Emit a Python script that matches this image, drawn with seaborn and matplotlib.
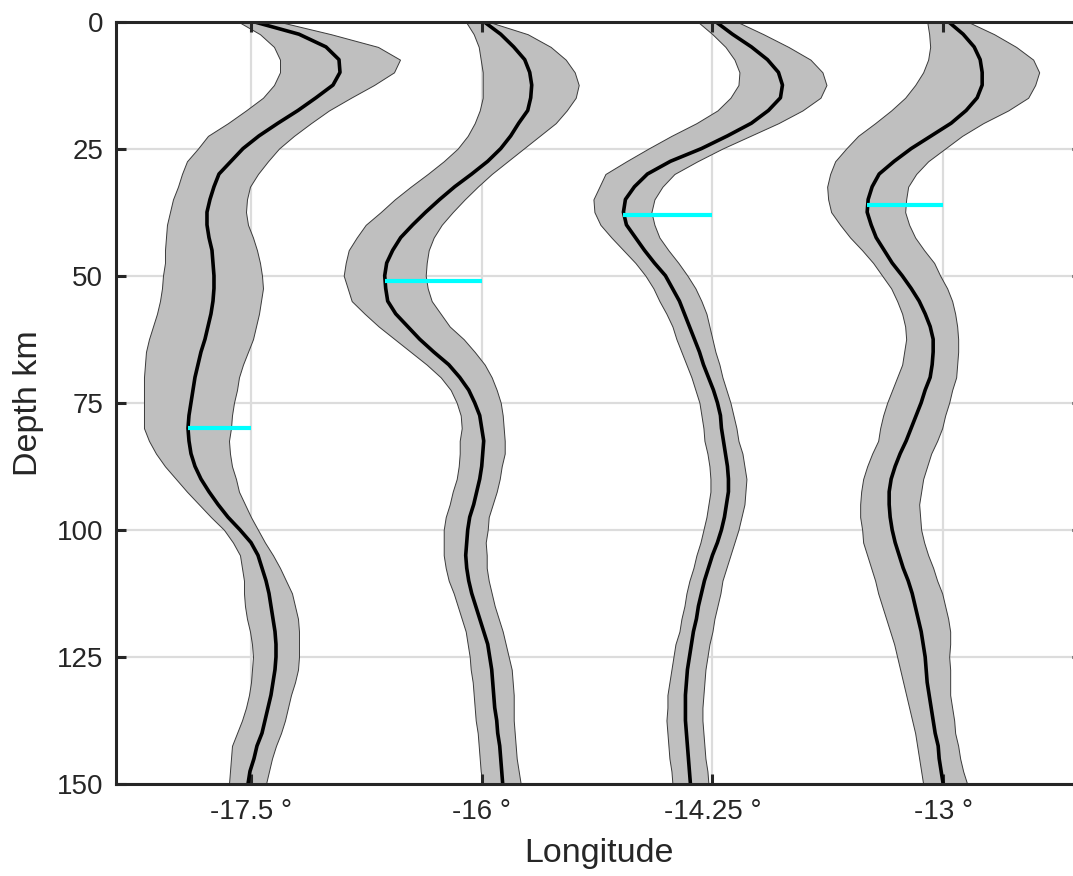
import numpy as np
import pandas as pd
import matplotlib
matplotlib.use("Agg")
import matplotlib.pyplot as plt
import seaborn as sns

# ---------------- data ----------------
depth = [0, 2.5, 5, 7.5, 10, 12.5, 15, 17.5, 20, 22.5, 25, 27.5, 30, 32.5, 35, 37.5,
         40, 42.5, 45, 47.5, 50, 52.5, 55, 57.5, 60, 62.5, 65, 67.5, 70, 72.5, 75, 77.5,
         80, 82.5, 85, 87.5, 90, 92.5, 95, 97.5, 100, 102.5, 105, 107.5, 110, 112.5,
         115, 117.5, 120, 122.5, 125, 127.5, 130, 132.5, 135, 137.5, 140, 142.5, 145,
         147.5, 150]

tick_labels = ["-17.5 °", "-16 °", "-14.25 °", "-13 °"]
positions = [1, 2, 3, 4]

# velocity perturbation (m/s) of the mean model and of the band edges
p1_mean = [2, 48, 75, 88, 89, 82, 65, 47, 27, 8, -8, -20, -32, -37, -41, -44, -44, -42, -39, -38,
           -37, -37, -38, -40,
           -43, -46, -50, -53, -56, -58, -60, -62, -63, -62, -60, -56, -50, -42, -33, -23, -11, 0,
           7, 11, 15, 18, 20, 22, 24, 25, 25, 24, 22, 20, 17, 14, 11, 6, 3, -1, -3]
p1_low = [-13, 9, 23, 29, 29, 23, 12, -5, -23, -43, -53, -64, -69, -73, -78, -81, -84, -85, -86, -86,
          -88, -89, -91, -94,
          -98, -102, -105, -106, -107, -107, -107, -107, -107, -102, -95, -86, -75, -64, -52, -40,
          -27, -18, -11, -9, -7, -7, -6, -4, -1, 1, 2, 1, 0, -2, -5, -9, -14, -19, -20, -21, -22]
p1_high = [27, 80, 127, 149, 143, 123, 100, 78, 60, 43, 28, 17, 7, -1, -4, -5, -3, 2, 6, 9,
           11, 12, 10, 8,
           5, 2, -3, -8, -12, -14, -17, -19, -20, -22, -21, -19, -15, -12, -6, 0, 7, 14, 22, 29,
           35, 41, 44, 47, 48, 48, 48, 47, 44, 40, 37, 34, 30, 25, 21, 18, 15]

p2_mean = [2, 19, 32, 43, 48, 50, 49, 46, 37, 29, 19, 6, -10, -27, -42, -56, -69, -81, -89, -95,
           -97, -96, -94, -86,
           -74, -62, -48, -33, -22, -13, -7, -2, 0, 2, 1, 0, -2, -5, -8, -12, -14, -15, -16, -15,
           -13, -10, -6, -2, 2, 6, 8, 10, 11, 12, 13, 15, 16, 18, 19, 20, 21]
p2_low = [-16, -8, -3, -1, 1, 1, 1, -2, -7, -14, -24, -38, -54, -71, -87, -101, -116, -125, -133, -136,
          -138, -134, -130, -117,
          -103, -87, -71, -55, -41, -31, -25, -21, -20, -22, -22, -23, -25, -29, -32, -36, -38, -38,
          -38, -36, -33, -28, -24, -20, -16, -14, -12, -11, -9, -8, -7, -6, -4, -3, -2, -1, 1]
p2_high = [6, 46, 69, 84, 93, 97, 94, 85, 74, 58, 42, 26, 10, -4, -17, -29, -40, -48, -53, -55,
           -56, -54, -50, -41,
           -32, -18, -7, 3, 10, 15, 19, 21, 22, 23, 23, 20, 18, 15, 11, 7, 6, 4, 5, 5, 7, 10, 13,
           17, 21, 24, 27, 30, 31, 32, 32, 32, 33, 34, 35, 37, 39]

p3_mean = [3, 20, 39, 55, 66, 70, 68, 56, 39, 15, -11, -42, -65, -78, -87, -89, -86, -77, -68, -58,
           -47, -40, -33, -28,
           -23, -18, -13, -9, -4, 1, 5, 8, 9, 11, 13, 15, 16, 16, 14, 12, 9, 5, 0, -4, -8, -11,
           -14, -16, -19, -21, -23, -25, -26, -27, -27, -27, -26, -25, -24, -23, -22]
p3_low = [-15, 0, 13, 22, 27, 26, 18, 5, -16, -41, -64, -86, -107, -113, -119, -118, -112, -101, -89, -77,
          -67, -59, -53, -46,
          -40, -36, -31, -26, -21, -17, -13, -11, -9, -8, -5, -3, -2, -2, -4, -6, -9, -12, -16,
          -19, -23, -26, -28, -31, -33, -37, -39, -41, -43, -45, -45, -46, -45, -44, -43, -41, -40]
p3_high = [24, 51, 76, 98, 110, 114, 108, 90, 66, 38, 10, -15, -38, -50, -58, -61, -58, -53, -44, -34,
           -25, -17, -11, -6,
           -3, 0, 3, 7, 10, 14, 18, 21, 24, 26, 30, 32, 34, 33, 32, 29, 26, 22, 18, 14, 10, 8, 5,
           2, 0, -3, -5, -7, -8, -9, -10, -10, -9, -8, -7, -5, -4]

p4_mean = [5, 20, 31, 37, 39, 39, 34, 23, 8, -12, -32, -49, -64, -71, -75, -76, -72, -67, -59, -51,
           -41, -32, -24, -18,
           -13, -10, -10, -11, -13, -18, -22, -27, -32, -37, -43, -48, -52, -54, -54, -53, -51, -48,
           -44, -40, -35, -31, -28, -25, -22, -20, -18, -17, -16, -14, -12, -10, -8, -5, -4, -2, 0]
p4_low = [-16, -14, -13, -15, -20, -28, -38, -52, -68, -85, -97, -108, -113, -116, -115, -112, -103, -93, -81, -70,
          -61, -52, -46, -41,
          -38, -37, -39, -41, -46, -51, -56, -60, -63, -65, -71, -76, -80, -82, -83, -83, -81, -80,
          -76, -72, -68, -65, -61, -57, -53, -49, -46, -43, -40, -37, -34, -31, -28, -26, -24, -22, -20]
p4_high = [24, 51, 73, 90, 96, 92, 85, 65, 40, 19, 2, -15, -27, -35, -37, -38, -34, -28, -19, -9,
           -3, 4, 9, 12,
           14, 15, 15, 14, 13, 9, 6, 2, -1, -6, -12, -16, -20, -22, -24, -23, -22, -19, -15, -10,
           -6, -1, 2, 5, 7, 7, 6, 7, 7, 7, 9, 11, 12, 15, 17, 20, 24]

# Moho depth (km) and the perturbation of the mean model at that depth
moho_depth = [80, 51, 38, 36]
moho_dv = [-63, -97, -89, -76]

means = [p1_mean, p2_mean, p3_mean, p4_mean]
lows = [p1_low, p2_low, p3_low, p4_low]
highs = [p1_high, p2_high, p3_high, p4_high]

EXAG = 1 / 230.7  # plot units per m/s

# ---------------- style ----------------
sns.set_theme(style="white")
plt.rcParams["font.family"] = ["Liberation Sans", "DejaVu Sans"]
TXT = "#262626"

fig = plt.figure(figsize=(10.73, 8.76), dpi=100)
W, H = 1073, 876
ax = fig.add_axes([115.5 / W, 1 - 784 / H, (1081.6 - 115.5) / W, (784 - 21.5) / H])
ax.set_axisbelow(False)

yticks = [0, 25, 50, 75, 100, 125, 150]
ax.grid(False)
for yv in yticks:
    ax.axhline(yv, color="#dcdcdc", lw=1.6, zorder=0.5)
for xv in positions:
    ax.axvline(xv, color="#dcdcdc", lw=1.6, zorder=0.5)

d = np.array(depth, dtype=float)
for pos, m, lo, hi, md, mv in zip(positions, means, lows, highs, moho_depth, moho_dv):
    xl = pos + np.array(lo) * EXAG
    xh = pos + np.array(hi) * EXAG
    ax.fill_betweenx(d, xl, xh, facecolor="#bfbfbf", edgecolor="#3a3a3a",
                     lw=0.7, zorder=2)
    df = pd.DataFrame({"x": pos + np.array(m) * EXAG, "depth": d})
    sns.lineplot(data=df, x="x", y="depth", orient="y", sort=False, estimator=None,
                 color="black", lw=2.6, ax=ax, zorder=3)
    ax.plot([pos + mv * EXAG, pos], [md, md], color="#00ffff", lw=3.0,
            solid_capstyle="butt", zorder=4)

ax.set_xlim(0.4128, 4.6)
ax.set_ylim(150, 0)
ax.set_xticks(positions)
ax.set_xticklabels(tick_labels)
ax.set_yticks(yticks)

for s in ax.spines.values():
    s.set_visible(True)
    s.set_color(TXT)
    s.set_linewidth(2.2)
    s.set_zorder(5)

ax.tick_params(axis="both", which="both", direction="in", length=7, width=2.2,
               color=TXT, labelcolor=TXT, labelsize=20,
               top=True, right=True, bottom=True, left=True)
ax.tick_params(axis="x", pad=11)
ax.tick_params(axis="y", pad=9)

ax.set_xlabel("Longitude", fontsize=24.5, color=TXT, labelpad=9)
ax.set_ylabel("Depth km", fontsize=24.5, color=TXT, labelpad=9)

fig.savefig("out.png", dpi=100)
